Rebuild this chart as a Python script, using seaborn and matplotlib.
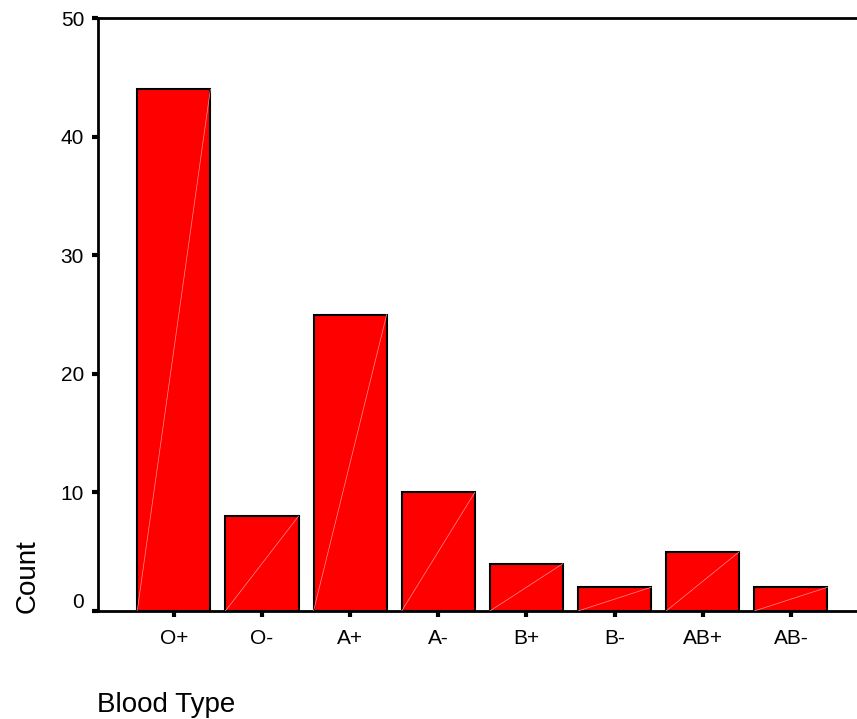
import matplotlib
matplotlib.use("Agg")
import matplotlib.pyplot as plt
import matplotlib.transforms as mtransforms
import seaborn as sns
import pandas as pd

blood_types = ["O+", "O-", "A+", "A-", "B+", "B-", "AB+", "AB-"]
counts = [44, 8, 25, 10, 4, 2, 5, 2]
y_ticks = [0, 10, 20, 30, 40, 50]

df = pd.DataFrame({"Blood Type": blood_types, "Count": counts})

sns.set_style("white")
plt.rcParams["font.family"] = ["Liberation Sans", "DejaVu Sans"]
plt.rcParams["text.color"] = "black"
plt.rcParams["xtick.color"] = "black"
plt.rcParams["ytick.color"] = "black"

fig = plt.figure(figsize=(8.57, 7.19), dpi=100)
ax = fig.add_axes([98 / 857, 1 - 611 / 719, 1 - 98 / 857, (611 - 18) / 719])

sns.barplot(data=df, x="Blood Type", y="Count", color="#ff0000", saturation=1,
            width=0.83, edgecolor="black", linewidth=1.5, ax=ax)

# faint diagonal seams like the original renderer
for p in ax.patches:
    x0, w, h = p.get_x(), p.get_width(), p.get_height()
    ax.plot([x0, x0 + w], [0, h], color="#ff9090", linewidth=0.5, zorder=3)

ax.set_xlim(-0.86, 7.75)
ax.set_ylim(0, 50)
ax.set_yticks(y_ticks)
ax.set_yticklabels([str(t) for t in y_ticks], fontsize=15)
ax.tick_params(axis="x", labelsize=15, length=4, width=3, direction="out",
               labelcolor="black", bottom=True, pad=9)
ax.tick_params(axis="y", length=4, width=3, direction="out",
               labelcolor="black", left=True, pad=6)

# the zero label sits a little above the axis line
zero_lbl = ax.get_yticklabels()[0]
zero_lbl.set_transform(zero_lbl.get_transform() +
                       mtransforms.ScaledTranslation(0, 0.10, fig.dpi_scale_trans))

for side in ["left", "bottom", "top"]:
    ax.spines[side].set_visible(True)
    ax.spines[side].set_color("black")
    ax.spines[side].set_linewidth(2)
ax.spines["right"].set_visible(False)

ax.set_xlabel("")
ax.set_ylabel("")
fig.text(97 / 857, 1 - 712 / 719, "Blood Type", fontsize=20, ha="left", va="baseline")
fig.text(15 / 857, 1 - 613 / 719, "Count", fontsize=20, rotation=90, ha="left", va="bottom")

fig.savefig("out.png", dpi=100)
